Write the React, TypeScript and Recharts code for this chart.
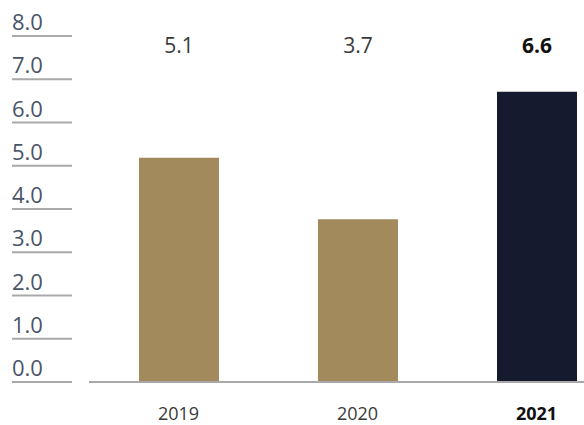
import { Bar, BarChart, Cell, LabelList, XAxis, YAxis } from "recharts";

const years = ["2019", "2020", "2021"];
const values = [5.1, 3.7, 6.6];
const yTicks = [0, 1, 2, 3, 4, 5, 6, 7, 8];
const highlightYear = "2021";

const colors = {
  gold: "#a28a5d",
  navy: "#161a2e",
  tickText: "#4a5468",
  line: "#a9a9a9",
  text: "#3a3a3a",
};

const data = years.map((year, i) => ({ year, value: values[i] }));

const font = "'Open Sans', 'Noto Sans', sans-serif";

const YTick = (props: any) => {
  const { y, payload } = props;
  return (
    <g>
      <text
        x={12}
        y={y - 6}
        fontSize={22}
        fontFamily={font}
        fill={colors.tickText}
        textAnchor="start"
      >
        {payload.value.toFixed(1)}
      </text>
      <line x1={12} x2={72} y1={y} y2={y} stroke={colors.line} strokeWidth={2} />
    </g>
  );
};

const XTick = (props: any) => {
  const { x, y, payload } = props;
  const bold = payload.value === highlightYear;
  return (
    <text
      x={x}
      y={y + 30}
      textAnchor="middle"
      fontSize={18}
      fontFamily={font}
      fontWeight={bold ? 700 : 400}
      fill={bold ? "#111" : colors.text}
    >
      {payload.value}
    </text>
  );
};

const TopLabel = (props: any) => {
  const { x, width, value, index } = props;
  const bold = years[index] === highlightYear;
  return (
    <text
      x={x + width / 2}
      y={53}
      textAnchor="middle"
      fontSize={21}
      fontFamily={font}
      fontWeight={bold ? 700 : 400}
      fill={bold ? "#111" : colors.text}
    >
      {value.toFixed(1)}
    </text>
  );
};

export default function App() {
  return (
    <div
      style={{
        position: "absolute",
        left: 0,
        top: 0,
        width: 584,
        height: 425,
        overflow: "hidden",
        background: "#fff",
      }}
    >
      <BarChart
        width={640}
        height={425}
        data={data}
        margin={{ top: 36, right: 14, bottom: 0, left: 0 }}
      >
        <YAxis
          yAxisId="grid"
          type="number"
          domain={[0, 8]}
          allowDataOverflow
          ticks={yTicks}
          width={89}
          axisLine={false}
          tickLine={false}
          tick={<YTick />}
          interval={0}
        />
        <YAxis yAxisId="bars" type="number" domain={[0, 7.87]} allowDataOverflow hide />
        <XAxis
          dataKey="year"
          height={43}
          axisLine={{ stroke: colors.line, strokeWidth: 2 }}
          tickLine={false}
          tick={<XTick />}
        />
        <Bar yAxisId="bars" dataKey="value" barSize={80} isAnimationActive={false}>
          {data.map((d) => (
            <Cell key={d.year} fill={d.year === highlightYear ? colors.navy : colors.gold} />
          ))}
          <LabelList dataKey="value" content={<TopLabel />} />
        </Bar>
      </BarChart>
    </div>
  );
}
